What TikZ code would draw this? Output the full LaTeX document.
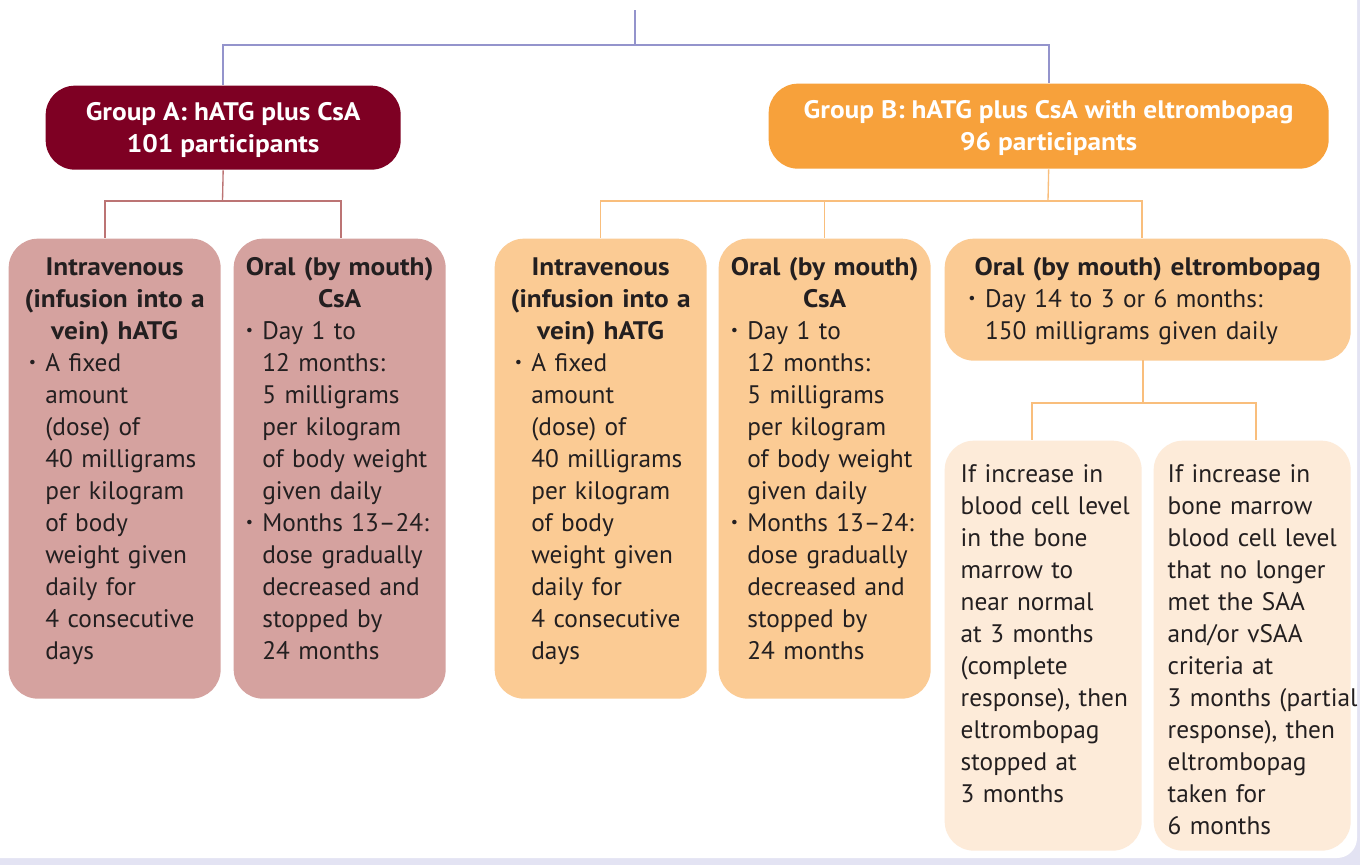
\documentclass[tikz,border=0pt]{standalone}
\usepackage{fontspec}
\setmainfont{PT Sans}
\newfontfamily\wide[FakeStretch=1.08]{PT Sans}
\usepackage{tikz}
\usetikzlibrary{shapes}

\definecolor{armA}{HTML}{7E0023}
\definecolor{armB}{HTML}{F7A13B}
\definecolor{drugA}{HTML}{D5A29F}
\definecolor{drugB}{HTML}{FBCB94}
\definecolor{outcome}{HTML}{FDEBD9}
\definecolor{ink}{HTML}{231F20}
\definecolor{page}{HTML}{E3E3F3}
\definecolor{linkTop}{HTML}{9494CC}
\definecolor{linkA}{HTML}{BC7474}
\definecolor{linkB}{HTML}{F9BE7C}

% bullet paragraph, text indented by #1
\newcommand{\dosepoint}[1]{\par\leftskip=#1\noindent%
  \llap{\raisebox{.32ex}{\fontsize{12}{12}\selectfont\textbullet}\hspace{7pt}}}
% bold heading lines
\newcommand{\boxtitle}[1]{{\centering\wide\bfseries\strut #1\par}}

\tikzset{
	group/.style  = {rectangle, rounded corners=22pt, anchor=north west, inner sep=0pt,
		text=white, align=center,
		font=\wide\bfseries\fontsize{19}{24}\selectfont},
	drug/.style   = {rectangle, rounded corners=22pt, anchor=north west, inner sep=0pt,
		minimum width=159pt, minimum height=345pt},
	leaf/.style   = {rectangle, rounded corners=22pt, anchor=north west, inner sep=0pt,
		fill=outcome, minimum width=147.75pt, minimum height=307.5pt},
	txt/.style    = {anchor=north west, inner sep=0pt, align=left, text=ink,
		font=\fontsize{19}{24}\selectfont},
}

\begin{document}
\begin{tikzpicture}[ x=0.75pt,               %<--one unit is one pixel
                     y=-0.75pt,              %<--y counts downwards
                     line width=1pt
                     ]
    \useasboundingbox (0,0) rectangle (1360,865);
    \fill[page] (0,0) rectangle (1360,865);
    \fill[white, rounded corners=15pt] (-40,-40) rectangle (1357,858);

    %-- Blocks creation --%
    \draw
      % GROUPS %
      node(grpA) at (45,85) [group, fill=armA, minimum width=266.25pt, minimum height=63pt]
           {\strut Group A: hATG plus CsA\\101 participants}
      node(grpB) at (768,83) [group, fill=armB, minimum width=420pt, minimum height=63.75pt]
           {\strut Group B: hATG plus CsA with eltrombopag\\96 participants}
    ;
    \draw
      % DRUGS %
      node(ivA)  at (8,238)   [drug, fill=drugA] {}
      node(csaA) at (233,238) [drug, fill=drugA] {}
      node(ivB)  at (494,238) [drug, fill=drugB] {}
      node(csaB) at (718,238) [drug, fill=drugB] {}
      node(eltB) at (944,238) [drug, fill=drugB, minimum width=304.5pt, minimum height=91.5pt] {}
      % OUTCOMES %
      node(cr) at (944,440)  [leaf] {}
      node(pr) at (1153,440) [leaf] {}
    ;

    %-- Texts --%
    \draw
      node(ivAtxt) at (ivA.north) [txt, anchor=north, text width=148pt, yshift=-11pt]
        {\boxtitle{Intravenous\\(infusion into a\\vein) hATG}
         \dosepoint{22pt}A fixed\\amount\\(dose) of\\40 milligrams\\per kilogram\\of body\\weight given\\daily for\\4 consecutive\\days\par}
      node(csaAtxt) at (csaA.north) [txt, anchor=north, text width=148pt, yshift=-11pt]
        {\boxtitle{Oral (by mouth)\\CsA}
         \dosepoint{16pt}Day 1 to\\12 months:\\5 milligrams\\per kilogram\\of body weight\\given daily
         \dosepoint{16pt}Months 13--24:\\dose gradually\\decreased and\\stopped by\\24 months\par}
      node(ivBtxt) at (ivB.north) [txt, anchor=north, text width=148pt, yshift=-11pt]
        {\boxtitle{Intravenous\\(infusion into a\\vein) hATG}
         \dosepoint{22pt}A fixed\\amount\\(dose) of\\40 milligrams\\per kilogram\\of body\\weight given\\daily for\\4 consecutive\\days\par}
      node(csaBtxt) at (csaB.north) [txt, anchor=north, text width=148pt, yshift=-11pt]
        {\boxtitle{Oral (by mouth)\\CsA}
         \dosepoint{16pt}Day 1 to\\12 months:\\5 milligrams\\per kilogram\\of body weight\\given daily
         \dosepoint{16pt}Months 13--24:\\dose gradually\\decreased and\\stopped by\\24 months\par}
      node(eltBtxt) at (eltB.north) [txt, anchor=north, text width=290pt, yshift=-11pt]
        {\boxtitle{Oral (by mouth) eltrombopag}
         \dosepoint{23pt}Day 14 to 3 or 6 months:\\150 milligrams given daily\par}
      node(crtxt) at (cr.north west) [txt, text width=140pt, xshift=12pt, yshift=-14.7pt]
        {\strut If increase in\\blood cell level\\in the bone\\marrow to\\near normal\\at 3 months\\(complete\\response), then\\eltrombopag\\stopped at\\3 months}
      node(prtxt) at (pr.north west) [txt, text width=142pt, xshift=10.5pt, yshift=-14.7pt]
        {\strut If increase in\\bone marrow\\blood cell level\\that no longer\\met the SAA\\and/or vSAA\\criteria at\\3~months~(partial\\response), then\\eltrombopag\\taken for\\6 months}
    ;

    %-- Junctions --%
    \draw
      node[shape=coordinate][](root)     at (635,10){}
      node[shape=coordinate][](split)    at (635,45){}
      node[shape=coordinate][](forkA)    at (222.5,201){}
      node[shape=coordinate][](dropIvA)  at (105,238){}
      node[shape=coordinate][](dropCsaA) at (341,238){}
      node[shape=coordinate][](forkB)    at (1048,201){}
      node[shape=coordinate][](dropEltB) at (1142,238){}
      node[shape=coordinate][](outElt)   at (1143,360){}
      node[shape=coordinate][](forkElt)  at (1143,403){}
      node[shape=coordinate][](dropCr)   at (1032,440){}
      node[shape=coordinate][](dropPr)   at (1256,440){}
    ;

    %-- Block linking --%
    % TOP SPLIT %
    \draw[linkTop, line width=1.3pt] (root)  -- (split);
    \draw[linkTop, line width=1.3pt] (split) -| (grpA.north);
    \draw[linkTop, line width=1.3pt] (split) -| (grpB.north);

    % GROUP A %
    \draw[linkA] (grpA.south) -- (forkA);
    \draw[linkA] (forkA)      -| (dropIvA);
    \draw[linkA] (forkA)      -| (dropCsaA);

    % GROUP B %
    \draw[linkB] (grpB.south) -- (forkB);
    \draw[linkB] (forkB)      -| (ivB.north);
    \draw[linkB] (forkB)      -| (csaB.north);
    \draw[linkB] (forkB)      -| (dropEltB);
    \draw[linkB] (outElt)     -- (forkElt);
    \draw[linkB] (forkElt)    -| (dropCr);
    \draw[linkB] (forkElt)    -| (dropPr);

\end{tikzpicture}
\end{document}
